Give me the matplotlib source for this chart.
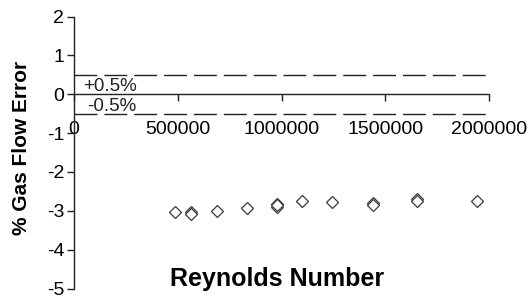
import matplotlib
matplotlib.use("Agg")
import matplotlib.pyplot as plt

# Data
reynolds = [486700, 562400, 562400, 690600, 835200, 976900, 976900, 976900,
            1100200, 1241900, 1442400, 1442400, 1654500, 1654500, 1940700]
gas_error = [-3.04, -3.03, -3.08, -3.01, -2.94, -2.83, -2.90, -2.86,
             -2.76, -2.78, -2.81, -2.85, -2.70, -2.76, -2.76]
limit_upper = 0.5
limit_lower = -0.5
x_ticks = [0, 500000, 1000000, 1500000, 2000000]
y_ticks = [-5, -4, -3, -2, -1, 0, 1, 2]

plt.rcParams['font.family'] = ['Liberation Sans', 'DejaVu Sans']

fig = plt.figure(figsize=(5.32, 2.97), dpi=100)
ax = fig.add_axes([74/532, 1-288.5/297, (489-74)/532, (288.5-16.5)/297])

ax.set_xlim(0, 2000000)
ax.set_ylim(-5, 2)

ax.axhline(limit_upper, color='#222222', lw=1.0, ls=(0, (16.5, 5)))
ax.axhline(limit_lower, color='#222222', lw=1.0, ls=(0, (16.5, 5)))

ax.plot(reynolds, gas_error, linestyle='none', marker='D', markersize=6.6,
        markerfacecolor='white', markeredgecolor='#3a3a3a', markeredgewidth=0.9,
        clip_on=False, zorder=3)

ax.text(43000, 0.2, '+0.5%', fontsize=13.5, va='center', ha='left', color='#222222')
ax.text(63000, -0.31, '-0.5%', fontsize=13.5, va='center', ha='left', color='#222222')

for s in ['top', 'right']:
    ax.spines[s].set_visible(False)
ax.spines['bottom'].set_position(('data', 0))
for s in ['bottom', 'left']:
    ax.spines[s].set_color('#222222')
    ax.spines[s].set_linewidth(1.0)

ax.set_xticks(x_ticks)
ax.set_xticklabels([str(v) for v in x_ticks])
ax.set_yticks(y_ticks)
ax.set_yticklabels([str(v) for v in y_ticks])
ax.tick_params(axis='x', direction='out', length=5, width=1, color='#222222',
               labelsize=14, pad=14.5)
ax.tick_params(axis='y', direction='out', length=5, width=1, color='#222222',
               labelsize=14, pad=2)

fig.text(22/532, 1-148/297, '% Gas Flow Error', rotation=90, fontsize=15,
         fontweight='bold', ha='center', va='center')
fig.text(277.5/532, 1-279/297, 'Reynolds Number', fontsize=18,
         fontweight='bold', ha='center', va='center')

fig.savefig('out.png', dpi=100)
